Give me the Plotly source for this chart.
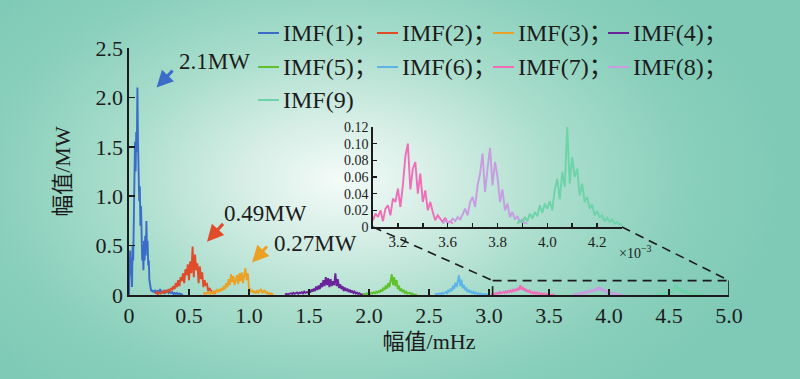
import base64
import numpy as np
import plotly.graph_objects as go

# ---------------- data ----------------
SERIES_NAMES = ["IMF(1)", "IMF(2)", "IMF(3)", "IMF(4)", "IMF(5)",
                "IMF(6)", "IMF(7)", "IMF(8)", "IMF(9)"]
SERIES_COLORS = ["#3B6CC7", "#E04B2A", "#EBA224", "#6A2399", "#5FC12B",
                 "#5DB5E6", "#F06DB8", "#C79CE0", "#6DD3A9"]

# main spectrum: (start freq, end freq) of each sampled band and the amplitudes (MW)
IMF1_CORE_BAND = (0.0, 0.20)
IMF1_CORE = [0.00, 0.30, 0.45, 0.20, 0.38, 0.08, 0.50, 0.35, 0.90, 1.20,
             1.55, 1.25, 1.65, 1.45, 2.10, 1.55, 1.15, 0.95, 1.10, 0.70,
             0.90, 0.50, 0.35, 0.50, 0.25, 0.55, 0.35, 0.60, 0.40, 0.75,
             0.45, 0.55, 0.30, 0.35, 0.15, 0.10, 0.06, 0.04, 0.05, 0.03, 0.04]
IMF1_TAIL_BAND = (0.21, 0.45)
IMF1_TAIL = [0.03, 0.05, 0.02, 0.04, 0.03, 0.06, 0.02, 0.03, 0.04, 0.02,
             0.03, 0.05, 0.02, 0.03, 0.02, 0.03, 0.01, 0.02, 0.01, 0.02,
             0.01, 0.015, 0.01, 0.005, 0.0]

IMF2_BAND = (0.22, 0.72)
IMF2 = [0.01, 0.03, 0.008, 0.025, 0.015, 0.02, 0.04, 0.015, 0.05, 0.03,
        0.035, 0.06, 0.03, 0.07, 0.05, 0.09, 0.06, 0.12, 0.08, 0.15,
        0.09, 0.18, 0.14, 0.22, 0.12, 0.26, 0.20, 0.31, 0.15, 0.34,
        0.22, 0.49, 0.18, 0.41, 0.25, 0.32, 0.12, 0.29, 0.16, 0.23,
        0.08, 0.15, 0.10, 0.11, 0.04, 0.07, 0.05, 0.03, 0.02, 0.03, 0.01]

IMF3_BAND = (0.62, 1.20)
IMF3 = [0.01, 0.02, 0.01, 0.025, 0.015, 0.03, 0.012, 0.02, 0.035, 0.015,
        0.03, 0.05, 0.025, 0.06, 0.035, 0.07, 0.045, 0.09, 0.06, 0.12,
        0.08, 0.16, 0.10, 0.21, 0.13, 0.19, 0.10, 0.17, 0.20, 0.11,
        0.22, 0.14, 0.23, 0.12, 0.21, 0.27, 0.15, 0.22, 0.07, 0.06,
        0.03, 0.05, 0.02, 0.04, 0.015, 0.05, 0.025, 0.04, 0.06, 0.02,
        0.04, 0.05, 0.015, 0.03, 0.01, 0.02, 0.01, 0.015, 0.0]

IMF4_BAND = (1.30, 1.95)
IMF4 = [0.005, 0.012, 0.006, 0.01, 0.008, 0.018, 0.01, 0.022, 0.012, 0.018,
        0.025, 0.012, 0.024, 0.018, 0.03, 0.016, 0.035, 0.02, 0.03, 0.025,
        0.045, 0.025, 0.055, 0.035, 0.065, 0.04, 0.085, 0.05, 0.095, 0.06,
        0.12, 0.08, 0.15, 0.09, 0.18, 0.10, 0.17, 0.08, 0.16, 0.09,
        0.14, 0.10, 0.22, 0.09, 0.16, 0.07, 0.11, 0.06, 0.09, 0.04,
        0.075, 0.04, 0.065, 0.03, 0.055, 0.025, 0.045, 0.02, 0.035, 0.015,
        0.025, 0.01, 0.018, 0.008, 0.008, 0.003]

IMF5_BAND = (1.95, 2.40)
IMF5 = [0.005, 0.012, 0.007, 0.016, 0.01, 0.022, 0.012, 0.024, 0.015, 0.028,
        0.018, 0.034, 0.022, 0.04, 0.03, 0.055, 0.035, 0.075, 0.05, 0.095,
        0.065, 0.12, 0.08, 0.15, 0.21, 0.10, 0.18, 0.09, 0.15, 0.06,
        0.095, 0.04, 0.065, 0.03, 0.045, 0.02, 0.035, 0.015, 0.02, 0.022,
        0.008, 0.016, 0.006, 0.008, 0.003, 0.0]

IMF6_BAND = (2.55, 3.00)
IMF6 = [0.005, 0.012, 0.006, 0.012, 0.016, 0.008, 0.022, 0.01, 0.024, 0.032,
        0.018, 0.045, 0.03, 0.065, 0.04, 0.095, 0.06, 0.125, 0.08, 0.145,
        0.20, 0.09, 0.155, 0.07, 0.105, 0.05, 0.075, 0.03, 0.055, 0.025,
        0.042, 0.015, 0.032, 0.012, 0.026, 0.01, 0.02, 0.008, 0.015, 0.005,
        0.01, 0.004, 0.01, 0.003, 0.005, 0.0]

IMF7_BAND = (3.02, 3.55)
IMF7 = [0.005, 0.012, 0.007, 0.016, 0.01, 0.022, 0.012, 0.03, 0.018, 0.028,
        0.032, 0.02, 0.038, 0.025, 0.042, 0.03, 0.048, 0.032, 0.052, 0.035,
        0.062, 0.04, 0.072, 0.05, 0.10, 0.055, 0.082, 0.045, 0.066, 0.035,
        0.052, 0.025, 0.042, 0.02, 0.032, 0.015, 0.03, 0.012, 0.026, 0.01,
        0.02, 0.008, 0.016, 0.006, 0.015, 0.005, 0.01, 0.004, 0.01, 0.003,
        0.006, 0.002, 0.003, 0.0]

IMF8_BAND = (3.70, 4.12)
IMF8 = [0.005, 0.012, 0.006, 0.012, 0.016, 0.008, 0.022, 0.01, 0.026, 0.014,
        0.032, 0.018, 0.042, 0.022, 0.046, 0.028, 0.056, 0.032, 0.062, 0.04,
        0.076, 0.045, 0.085, 0.05, 0.072, 0.04, 0.056, 0.03, 0.042, 0.02,
        0.032, 0.014, 0.026, 0.01, 0.02, 0.008, 0.015, 0.005, 0.01, 0.004,
        0.006, 0.002, 0.0]

IMF9_BAND = (4.40, 4.79)
IMF9 = [0.005, 0.008, 0.005, 0.012, 0.007, 0.016, 0.009, 0.022, 0.012, 0.026,
        0.018, 0.032, 0.042, 0.025, 0.052, 0.072, 0.11, 0.05, 0.082, 0.04,
        0.066, 0.03, 0.052, 0.022, 0.042, 0.016, 0.032, 0.012, 0.026, 0.01,
        0.02, 0.008, 0.015, 0.006, 0.01, 0.004, 0.01, 0.003, 0.005, 0.0]

# inset (x 10^-3 scale)
INSET_IMF7_BAND = (3.30, 3.62)
INSET_IMF7 = [0.008, 0.016, 0.012, 0.02, 0.007, 0.022, 0.026, 0.014, 0.034, 0.03,
              0.046, 0.024, 0.05, 0.085, 0.10, 0.045, 0.07, 0.078, 0.04, 0.064,
              0.03, 0.044, 0.02, 0.03, 0.018, 0.008, 0.014, 0.01, 0.006, 0.011,
              0.005, 0.007, 0.004]
INSET_IMF8_BAND = (3.58, 3.92)
INSET_IMF8 = [0.004, 0.008, 0.005, 0.006, 0.01, 0.007, 0.012, 0.009, 0.015, 0.022,
              0.014, 0.03, 0.036, 0.024, 0.05, 0.064, 0.088, 0.042, 0.07, 0.095,
              0.05, 0.078, 0.06, 0.03, 0.045, 0.02, 0.028, 0.012, 0.018, 0.009,
              0.013, 0.006, 0.009, 0.005, 0.004]
INSET_IMF9_BAND = (3.88, 4.30)
INSET_IMF9 = [0.004, 0.008, 0.006, 0.012, 0.007, 0.016, 0.01, 0.018, 0.013, 0.026,
              0.017, 0.028, 0.022, 0.031, 0.02, 0.045, 0.058, 0.033, 0.066, 0.048,
              0.12, 0.052, 0.084, 0.06, 0.07, 0.038, 0.052, 0.03, 0.036, 0.022,
              0.027, 0.014, 0.019, 0.012, 0.014, 0.007, 0.011, 0.006, 0.009, 0.004,
              0.006, 0.003, 0.003]

X_TICKS = [0, 0.5, 1.0, 1.5, 2.0, 2.5, 3.0, 3.5, 4.0, 4.5, 5.0]
X_TICKTEXT = ["0", "0.5", "1.0", "1.5", "2.0", "2.5", "3.0", "3.5", "4.0", "4.5", "5.0"]
Y_TICKS = [0, 0.5, 1.0, 1.5, 2.0, 2.5]
Y_TICKTEXT = ["0", "0.5", "1.0", "1.5", "2.0", "2.5"]
INSET_X_TICKS = [3.3, 3.4, 3.5, 3.6, 3.7, 3.8, 3.9, 4.0, 4.1, 4.2, 4.3]
INSET_X_TICKTEXT = ["", "3.2", "", "3.6", "", "3.8", "", "4.0", "", "4.2", ""]
INSET_Y_TICKS = [0, 0.02, 0.04, 0.06, 0.08, 0.10, 0.12]
INSET_Y_TICKTEXT = ["0", "0.02", "0.04", "0.06", "0.08", "0.10", "0.12"]

PEAK_LABELS = ["2.1MW", "0.49MW", "0.27MW"]
PEAK_POINTS = [(0.23, 2.10), (0.65, 0.54), (1.025, 0.33)]   # arrow tips (data)
ZOOM_BOX = (3.03, 5.0, 0.146)   # x0, x1, top (MW)


def grid(band, vals):
    return np.round(np.linspace(band[0], band[1], len(vals)), 4)


main_series = [
    (np.concatenate([grid(IMF1_CORE_BAND, IMF1_CORE), grid(IMF1_TAIL_BAND, IMF1_TAIL)]),
     IMF1_CORE + IMF1_TAIL),
    (grid(IMF2_BAND, IMF2), IMF2),
    (grid(IMF3_BAND, IMF3), IMF3),
    (grid(IMF4_BAND, IMF4), IMF4),
    (grid(IMF5_BAND, IMF5), IMF5),
    (grid(IMF6_BAND, IMF6), IMF6),
    (grid(IMF7_BAND, IMF7), IMF7),
    (grid(IMF8_BAND, IMF8), IMF8),
    (grid(IMF9_BAND, IMF9), IMF9),
]
inset_series = [
    (6, grid(INSET_IMF7_BAND, INSET_IMF7), INSET_IMF7),
    (7, grid(INSET_IMF8_BAND, INSET_IMF8), INSET_IMF8),
    (8, grid(INSET_IMF9_BAND, INSET_IMF9), INSET_IMF9),
]

# ---------------- layout geometry (pixels) ----------------
W, H = 800, 379
PL, PR, PT, PB = 129, 729, 48, 295
X_RANGE = [0, 5]
Y_RANGE = [0, 2.5]


def fx(px):
    return (px - PL) / (PR - PL)


def fy(py):
    return (PB - py) / (PB - PT)


INSET_DOM_X = [fx(373), fx(622)]
INSET_DOM_Y = [fy(227), fy(127)]

SERIF = "Liberation Serif, Times New Roman, Noto Sans CJK SC, serif"
INK = "#1c1c1c"

fig = go.Figure()

for (x, y), name, color in zip(main_series, SERIES_NAMES, SERIES_COLORS):
    fig.add_trace(go.Scatter(x=x, y=y, mode="lines", name=name,
                             line=dict(color=color, width=1.9),
                             showlegend=False, hoverinfo="skip",
                             xaxis="x", yaxis="y"))

for idx, x, y in inset_series:
    fig.add_trace(go.Scatter(x=x, y=y, mode="lines", name=SERIES_NAMES[idx],
                             line=dict(color=SERIES_COLORS[idx], width=1.9),
                             showlegend=False, hoverinfo="skip",
                             xaxis="x2", yaxis="y2"))

# background radial gradient
svg = f'''<svg xmlns="http://www.w3.org/2000/svg" width="{W}" height="{H}" viewBox="0 0 {W} {H}">
<defs><radialGradient id="g" gradientUnits="userSpaceOnUse" cx="340" cy="180" r="440"
 gradientTransform="translate(340 180) scale(1 0.62) translate(-340 -180)">
<stop offset="0" stop-color="#F4FBF8"/>
<stop offset="0.22" stop-color="#D6EEE6"/>
<stop offset="0.5" stop-color="#A9DDCC"/>
<stop offset="0.78" stop-color="#8AD0BC"/>
<stop offset="1" stop-color="#7FCAB6"/>
</radialGradient></defs>
<rect width="{W}" height="{H}" fill="#7FCAB6"/>
<rect width="{W}" height="{H}" fill="url(#g)"/>
</svg>'''
src = "data:image/svg+xml;base64," + base64.b64encode(svg.encode()).decode()

shapes = []
annotations = []

# zoom connector lines
bx0, bx1, btop = ZOOM_BOX


def paper_to_data_x(p):
    return X_RANGE[0] + p * (X_RANGE[1] - X_RANGE[0])


def paper_to_data_y(p):
    return Y_RANGE[0] + p * (Y_RANGE[1] - Y_RANGE[0])


ix0, ix1 = paper_to_data_x(INSET_DOM_X[0]), paper_to_data_x(INSET_DOM_X[1])
iy0 = paper_to_data_y(INSET_DOM_Y[0])
dash = dict(color=INK, width=1.6, dash="9px,6px")
solid = dict(color=INK, width=1.6)
shapes += [
    dict(type="line", xref="x", yref="y", x0=ix0, y0=iy0, x1=bx0, y1=btop, line=dash),
    dict(type="line", xref="x", yref="y", x0=ix1, y0=iy0, x1=bx1, y1=btop, line=dash),
    dict(type="line", xref="x", yref="y", x0=bx0, y0=btop, x1=bx1, y1=btop, line=dash),
    dict(type="line", xref="x", yref="y", x0=bx1, y0=0, x1=bx1, y1=btop, line=solid),
    dict(type="line", xref="x", yref="y", x0=bx0, y0=0, x1=bx0, y1=0.09, line=solid),
]

# peak arrows + labels
arrow_offsets = [(18, -19), (18, -20), (17, -18)]
label_pos = [(177, 62), (222, 213), (272, 243)]
for i, ((px_, py_), (ax, ay), (lx, ly), lab) in enumerate(
        zip(PEAK_POINTS, arrow_offsets, label_pos, PEAK_LABELS)):
    annotations.append(dict(x=px_, y=py_, xref="x", yref="y", text=" ", showarrow=True,
                            ax=ax, ay=ay, arrowhead=2, arrowsize=1.1, arrowwidth=3,
                            arrowcolor=SERIES_COLORS[i], font=dict(size=2)))
    annotations.append(dict(x=fx(lx), y=fy(ly), xref="paper", yref="paper", text=lab,
                            showarrow=False, xanchor="left", yanchor="middle",
                            font=dict(family=SERIF, size=23, color=INK)))

# manual legend
LEG_COLS = [258, 377, 493, 608]
LEG_ROWS = [33, 67, 100]
for i, (name, color) in enumerate(zip(SERIES_NAMES, SERIES_COLORS)):
    r, c = divmod(i, 4)
    lx, ly = LEG_COLS[c], LEG_ROWS[r]
    shapes.append(dict(type="line", xref="paper", yref="paper",
                       x0=fx(lx), x1=fx(lx + 21), y0=fy(ly), y1=fy(ly),
                       line=dict(color=color, width=2)))
    txt = name + ("；" if i < len(SERIES_NAMES) - 1 else "")
    annotations.append(dict(x=fx(lx + 23), y=fy(ly), xref="paper", yref="paper",
                            text=txt, showarrow=False, xanchor="left", yanchor="middle",
                            font=dict(family=SERIF, size=24, color=INK)))

# x10^-3 label
annotations.append(dict(x=fx(617), y=fy(252), xref="paper", yref="paper",
                        text="×10<sup>−3</sup>", showarrow=False,
                        xanchor="left", yanchor="middle",
                        font=dict(family=SERIF, size=14, color=INK)))

axis_common = dict(showgrid=False, zeroline=False, showline=True, linecolor=INK,
                   linewidth=1.6, ticks="inside", tickcolor=INK, tickwidth=1.5)

fig.update_layout(
    width=W, height=H,
    margin=dict(l=PL, r=W - PR, t=PT, b=H - PB),
    paper_bgcolor="#7FCAB6",
    plot_bgcolor="rgba(0,0,0,0)",
    showlegend=False,
    images=[dict(source=src, xref="paper", yref="paper",
                 x=fx(0), y=fy(0), sizex=fx(W) - fx(0), sizey=fy(0) - fy(H),
                 xanchor="left", yanchor="top", sizing="stretch", layer="below")],
    xaxis=dict(**axis_common, range=X_RANGE, ticklen=6,
               tickvals=X_TICKS, ticktext=X_TICKTEXT,
               tickfont=dict(family=SERIF, size=22, color=INK),
               title=dict(text="幅值/mHz", standoff=6,
                          font=dict(family=SERIF, size=22, color=INK))),
    yaxis=dict(**axis_common, range=Y_RANGE, ticklen=6,
               tickvals=Y_TICKS, ticktext=Y_TICKTEXT,
               tickfont=dict(family=SERIF, size=22, color=INK),
               title=dict(text="幅值/MW", standoff=19,
                          font=dict(family=SERIF, size=22, color=INK))),
    xaxis2=dict(**axis_common, domain=INSET_DOM_X, anchor="y2", range=[3.3, 4.3],
                ticklen=4, tickvals=INSET_X_TICKS, ticktext=INSET_X_TICKTEXT,
                tickfont=dict(family=SERIF, size=15, color=INK)),
    yaxis2=dict(**axis_common, domain=INSET_DOM_Y, anchor="x2", range=[0, 0.12],
                ticklen=4, tickvals=INSET_Y_TICKS, ticktext=INSET_Y_TICKTEXT,
                tickfont=dict(family=SERIF, size=14, color=INK)),
    shapes=shapes,
    annotations=annotations,
)

fig.write_html("out.html",
               config={"displayModeBar": False, "staticPlot": True},
               post_script="document.body.style.margin='0';document.body.style.overflow='hidden';")
